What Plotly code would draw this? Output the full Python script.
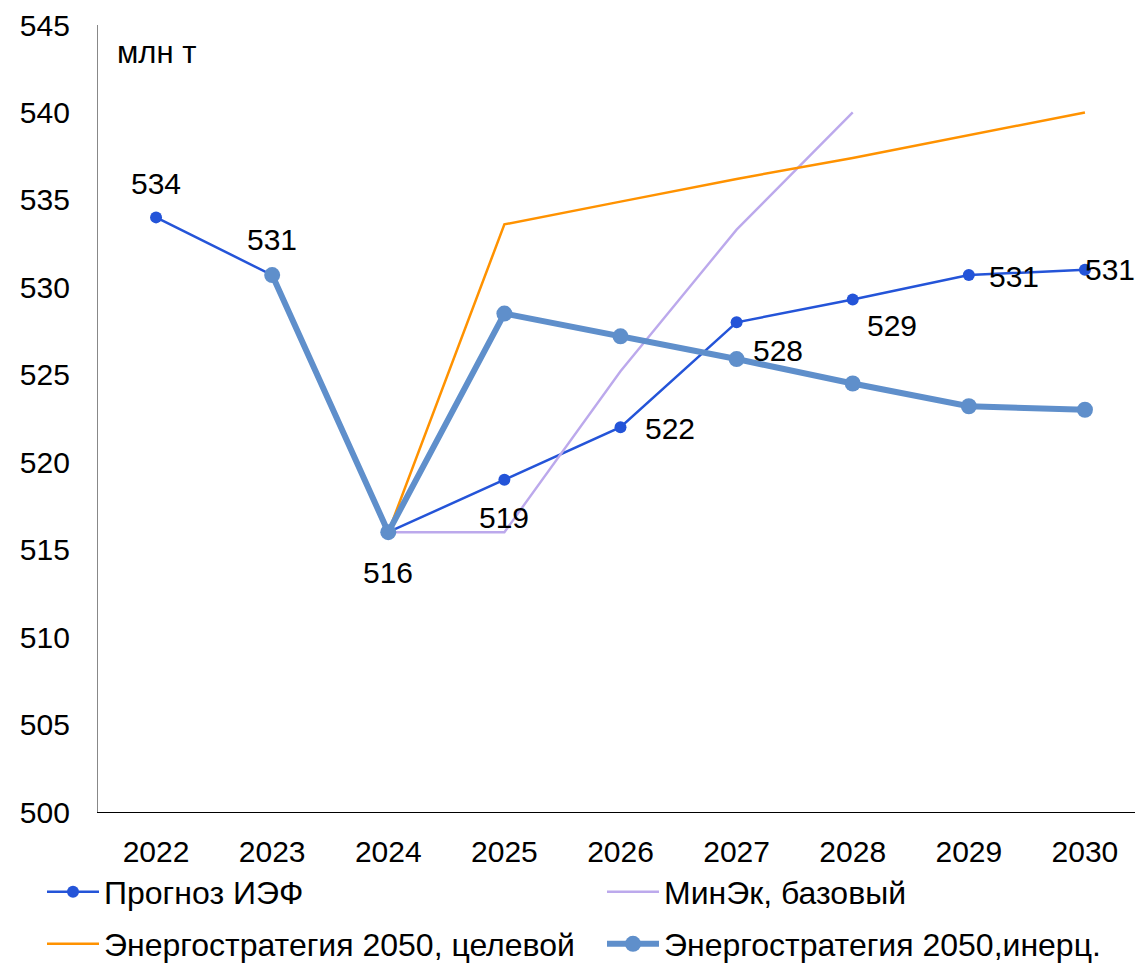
import plotly.graph_objects as go

years = ["2022", "2023", "2024", "2025", "2026", "2027", "2028", "2029", "2030"]
ief = [534.0, 530.7, 516.0, 519.0, 522.0, 528.0, 529.3, 530.7, 531.0]
minek = [None, None, 516.0, 516.0, 525.2, 533.3, 540.0, None, None]
target = [None, None, 516.0, 533.6, 534.9, 536.2, 537.4, 538.7, 540.0]
inert = [None, 530.7, 516.0, 528.5, 527.2, 525.9, 524.5, 523.2, 523.0]

names = ["Прогноз ИЭФ", "МинЭк, базовый", "Энергостратегия 2050, целевой", "Энергостратегия 2050,инерц."]
unit_label = "млн т"

FONT = "Arial, Liberation Sans, sans-serif"
W, H = 1135, 955  # page body has an 8px margin

fig = go.Figure()
fig.add_trace(go.Scatter(x=years, y=ief, name=names[0], mode="lines+markers",
                         line=dict(color="#2454D8", width=2.5),
                         marker=dict(size=12, color="#2454D8"), legend="legend"))
fig.add_trace(go.Scatter(x=years, y=minek, name=names[1], mode="lines",
                         line=dict(color="#BCA9EC", width=2.4), legend="legend2"))
fig.add_trace(go.Scatter(x=years, y=target, name=names[2], mode="lines",
                         line=dict(color="#FF9200", width=2.5), legend="legend3"))
fig.add_trace(go.Scatter(x=years, y=inert, name=names[3], mode="lines+markers",
                         line=dict(color="#5F8FCB", width=6),
                         marker=dict(size=16, color="#5F8FCB"), legend="legend4"))

# data labels for Прогноз ИЭФ (x given as category index)
shifts = [(0, 34), (0, 36), (0, -40), (0, -38), (49, -1), (41, -28), (39, -26), (45, -1), (25, 0)]
for i, (v, (dx, dy)) in enumerate(zip(ief, shifts)):
    fig.add_annotation(x=i, y=v, xref="x", yref="y", text=f"{v:.0f}", showarrow=False,
                       xshift=dx, yshift=dy, font=dict(size=30, color="black", family=FONT))

fig.add_annotation(xref="paper", yref="paper", x=0.016, y=0.965, text=unit_label,
                   showarrow=False, xanchor="left", yanchor="middle",
                   font=dict(size=31, color="black", family=FONT))

legend_common = dict(orientation="h", xref="container", yref="container",
                     xanchor="left", yanchor="middle", itemwidth=52,
                     font=dict(size=32, color="black", family=FONT),
                     bgcolor="rgba(0,0,0,0)")
col1, col2 = 34 / W, 594 / W
row1, row2 = 1 - 884 / H, 1 - 936 / H

fig.update_layout(
    width=W, height=H,
    margin=dict(l=90, r=0, t=17, b=151, autoexpand=False),
    paper_bgcolor="white", plot_bgcolor="white",
    font=dict(family=FONT, size=30, color="black"),
    showlegend=True,
    legend=dict(x=col1, y=row1, **legend_common),
    legend2=dict(x=col2, y=row1, **legend_common),
    legend3=dict(x=col1, y=row2, **legend_common),
    legend4=dict(x=col2, y=row2, **legend_common),
    xaxis=dict(type="category", showgrid=False, showline=True, linecolor="black", linewidth=1.3,
               ticks="", tickfont=dict(size=30, family=FONT), range=[-0.5, 8.5],
               ticklabelstandoff=13, automargin=False),
    yaxis=dict(range=[500, 545], dtick=5, showgrid=False, showline=True,
               linecolor="#888888", linewidth=1.3, ticks="", zeroline=False,
               tickfont=dict(size=30, family=FONT), ticklabelstandoff=21, automargin=False),
)

fig.write_html("out.html")
